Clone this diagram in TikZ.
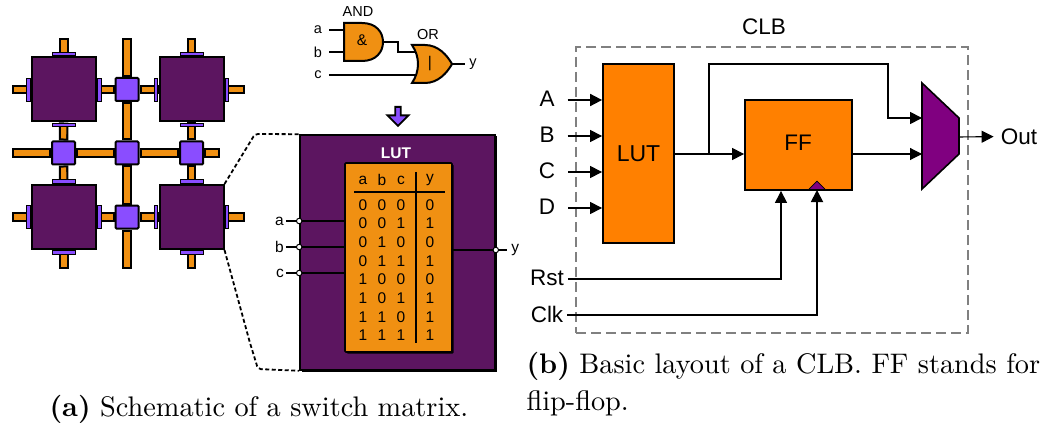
\documentclass[tikz,border=0pt]{standalone}
\usepackage{fontspec}
\setsansfont{Liberation Sans}
\usetikzlibrary{shapes.geometric,shapes.arrows,arrows.meta,positioning,calc,backgrounds,shadows}
\definecolor{clbpurple}{HTML}{5C1560}
\definecolor{swviolet}{HTML}{8A4DFF}
\definecolor{wireorange}{HTML}{F09012}
\definecolor{boxorange}{HTML}{FF8000}
\definecolor{muxpurple}{HTML}{800080}
\begin{document}
\begin{tikzpicture}[
  x=1pt, y=-1pt,
  font=\sffamily,
  >={Triangle[length=12pt,width=12pt]},
  clb/.style={rectangle, draw=black, fill=clbpurple, line width=2pt, minimum size=64pt, inner sep=0pt},
  sw/.style={rectangle, rounded corners=1pt, draw=black, fill=swviolet, line width=2pt, minimum size=23pt, inner sep=0pt},
  padh/.style={rectangle, draw=black, fill=swviolet, line width=0.8pt, minimum width=23pt, minimum height=3.5pt, inner sep=0pt},
  padv/.style={rectangle, draw=black, fill=swviolet, line width=0.8pt, minimum width=3.5pt, minimum height=23pt, inner sep=0pt},
  wire/.style={line width=9.5pt, draw=black, postaction={draw=wireorange, line width=5.2pt, shorten >=2pt, shorten <=2pt}},
  zoomline/.style={dash pattern=on 4pt off 2.5pt, line width=1.8pt, rounded corners=3pt},
  gatebox/.style={draw=black, fill=wireorange, line width=2pt},
  gatelbl/.style={font=\sffamily\fontsize{14.5}{15}\selectfont, inner sep=0pt},
  gline/.style={line width=1.3pt},
  cell/.style={font=\sffamily\fontsize{15.5}{16}\selectfont, inner sep=0pt},
  port/.style={circle, draw=black, fill=white, line width=1pt, minimum size=5.5pt, inner sep=0pt},
  raised/.style={general shadow={fill=black, shadow xshift=1.5pt, shadow yshift=-1.5pt}},
  block/.style={rectangle, draw=black, fill=boxorange, line width=1.8pt, inner sep=0pt, font=\sffamily\fontsize{23}{23}\selectfont},
  sig/.style={font=\sffamily\fontsize{22.5}{23}\selectfont, inner sep=0pt},
  link/.style={->, line width=1.1pt},
  boldlink/.style={->, line width=1.8pt},
  caption/.style={font=\rmfamily\fontsize{10}{13}\selectfont, scale=2.83, transform shape, inner sep=0pt, align=left, anchor=base west},
]
\useasboundingbox (0,0) rectangle (1050,425);

\node[clb] (clbA) at (64,89.5) {};
\node[clb] (clbB) at (191.5,89.5) {};
\node[clb] (clbC) at (64,217) {};
\node[clb] (clbD) at (191.5,217) {};
\node[sw] (swT) at (127,89.5) {};
\node[sw] (swL) at (63.5,153) {};
\node[sw] (swM) at (127,153) {};
\node[sw] (swR) at (191.5,153) {};
\node[sw] (swB) at (127,217) {};

\foreach \c in {clbA,clbB,clbC,clbD} {
  \node[padh] (\c pn) at ($(\c.north)+(0,-2.5)$) {};
  \node[padh] (\c ps) at ($(\c.south)+(0,2.5)$) {};
  \node[padv] (\c pw) at ($(\c.west)+(-2.5,0)$) {};
  \node[padv] (\c pe) at ($(\c.east)+(2.5,0)$) {};
}

\coordinate (endAn) at (64,38);
\coordinate (endAw) at (12,89.5);
\coordinate (endBn) at (191.5,38);
\coordinate (endBe) at (245,89.5);
\coordinate (endCw) at (12,217);
\coordinate (endCs) at (64,269);
\coordinate (endDe) at (245,217);
\coordinate (endDs) at (191.5,269);
\coordinate (endT) at (127,38);
\coordinate (endL) at (12,153);
\coordinate (endR) at (220,153);
\coordinate (endB) at (127,269);

\begin{scope}[on background layer]
  \foreach \a/\b in {swT/clbA,swT/clbB,swT/swM,swM/swL,swM/swR,swM/swB,swL/clbA,swL/clbC,swR/clbB,swR/clbD,swB/clbC,swB/clbD,
                     clbA/endAn,clbA/endAw,clbB/endBn,clbB/endBe,clbC/endCw,clbC/endCs,clbD/endDe,clbD/endDs,
                     swT/endT,swL/endL,swR/endR,swB/endB}
    \draw[wire] (\a) -- (\b);
\end{scope}

\coordinate (andIn1) at (346,30);
\coordinate (andIn2) at (346,52);
\coordinate (andOut) at (383,42);
\coordinate (orIn1) at (417,52);
\coordinate (orIn2) at (417,75);
\coordinate (orOut) at (452,64);
\node[gatelbl] (inA) at (318,30) {a};
\node[gatelbl] (inB) at (318,52) {b};
\node[gatelbl] (inC) at (318,75) {c};
\node[gatelbl] (outY) at (473,64) {y};
\draw[gline, shorten <=7pt] (inA) -- (andIn1);
\draw[gline, shorten <=7pt] (inB) -- (andIn2);
\draw[gline, shorten <=7pt] (inC) -- (orIn2);
\draw[gline, shorten >=4pt] (orOut) -- (outY);
\draw[gline] (andOut) -| (398,52) -- (orIn1);
\draw[gatebox] (344,23) -- (362,23) .. controls (376,23) and (383,32) .. (andOut) .. controls (383,52) and (376,61) .. (362,61) -- (344,61) -- cycle;
\draw[gatebox] (412,45) -- (425,45) .. controls (438,45) and (447,55) .. (orOut) .. controls (447,73) and (438,83) .. (425,83) -- (412,83) .. controls (420,71) and (420,57) .. (412,45) -- cycle;
\node[cell] (gateAnd) at (362,40) {\&};
\node[cell] (gateOr) at (430,64) {|};
\node[gatelbl] (lblAnd) at (358,12) {AND};
\node[gatelbl] (lblOr) at (428,35) {OR};

\node[single arrow, draw=black, fill=swviolet, line width=1.8pt, minimum width=21pt, minimum height=19pt, single arrow head extend=4pt, shape border rotate=270, inner sep=0.5pt] (toLut) at (398,115) {};

\node[rectangle, raised, draw=black, fill=clbpurple, line width=1.6pt, minimum width=195pt, minimum height=235pt, inner sep=0pt] (lutBox) at (397.5,252.5) {};
\node[rectangle, raised, rounded corners=1pt, draw=black, fill=wireorange, line width=1.6pt, minimum width=107pt, minimum height=189pt, inner sep=0pt] (lutTable) at (398.5,257.5) {};
\node[font=\sffamily\bfseries\fontsize{15.5}{16}\selectfont, text=white, inner sep=0pt] (lutTitle) at (396,153) {LUT};

\node[cell] (headA) at (363,180) {a};
\node[cell] (headB) at (382,180) {b};
\node[cell] (headC) at (401,180) {c};
\node[cell] (headY) at (430,180) {y};
\foreach \va/\vb/\vc/\vy [count=\r] in {0/0/0/0,0/0/1/1,0/1/0/0,0/1/1/1,1/0/0/0,1/0/1/1,1/1/0/1,1/1/1/1} {
  \node[cell] (a\r) at (363,{186+\r*18.7}) {\va};
  \node[cell] (b\r) at (382,{186+\r*18.7}) {\vb};
  \node[cell] (c\r) at (401,{186+\r*18.7}) {\vc};
  \node[cell] (y\r) at (430,{186+\r*18.7}) {\vy};
}
\coordinate (ruleL) at (354,192);
\coordinate (ruleR) at (445,192);
\coordinate (ruleT) at (416,172);
\coordinate (ruleB) at (416,343);
\draw[gline] (ruleL) -- (ruleR);
\draw[gline] (ruleT) -- (ruleB);

\node[port] (portA) at (lutBox.west |- 0,221) {};
\node[port] (portB) at (lutBox.west |- 0,247) {};
\node[port] (portC) at (lutBox.west |- 0,273) {};
\node[port] (portY) at (lutBox.east |- 0,250) {};
\node[cell, left=12pt of portA] (lutInA) {a};
\node[cell, left=12pt of portB] (lutInB) {b};
\node[cell, left=12pt of portC] (lutInC) {c};
\node[cell, right=12pt of portY] (lutOutY) {y};
\foreach \p in {A,B,C} {
  \draw[gline, shorten <=2pt] (lutIn\p) -- (port\p);
  \draw[gline] (port\p) -- (port\p -| lutTable.west);
}
\draw[gline] (lutTable.east |- portY) -- (portY);
\draw[gline, shorten >=4pt] (portY) -- (lutOutY);

\coordinate (dashT) at (255,134);
\coordinate (dashM) at (250,343);
\coordinate (dashB) at (258,369);
\draw[zoomline] (clbD.north east) -- (dashT) -- (lutBox.north west);
\draw[zoomline] (clbD.south east) -- (dashM) -- (dashB) -- (lutBox.south west);

\node[rectangle, draw=black!50, dash pattern=on 10pt off 5pt, line width=1.8pt, minimum width=392pt, minimum height=286pt, inner sep=0pt] (clbFrame) at (772,190) {};
\node[sig] (clbTitle) at (764,27) {CLB};
\node[block, minimum width=71pt, minimum height=179pt] (lut) at (638.5,153.5) {LUT};
\node[block, minimum width=107pt, minimum height=90pt] (ff) at (798.5,145) {};
\node[sig] (ffText) at (798,143) {FF};
\node[isosceles triangle, isosceles triangle apex angle=90, shape border rotate=90, draw=black, fill=muxpurple, line width=0.8pt, minimum height=8pt, minimum width=17pt, inner sep=0pt, anchor=lower side] (clkMark) at (817,190) {};
\coordinate (muxA) at (922,83);
\coordinate (muxB) at (959,118);
\coordinate (muxC) at (959,154);
\coordinate (muxD) at (922,189);
\coordinate (muxT) at (922,118);
\coordinate (muxL) at (922,154);
\coordinate (muxOut) at (959,137);
\coordinate (tap) at (709,154);
\coordinate (topRight) at (888,64);
\draw[draw=black, fill=muxpurple, line width=1.6pt, line join=miter] (muxA) -- (muxB) -- (muxC) -- (muxD) -- cycle;

\node[sig] (inAA) at (547,99) {A};
\node[sig] (inBB) at (547,135) {B};
\node[sig] (inCC) at (547,171) {C};
\node[sig] (inDD) at (547,207) {D};
\node[sig] (inRst) at (547,278) {Rst};
\node[sig] (inClk) at (547,314) {Clk};
\node[sig] (outO) at (1019,136.5) {Out};

\draw[boldlink, shorten <=13pt] (inAA.east |- 0,100) -- (lut.west |- 0,100);
\foreach \n/\yy in {inBB/136,inCC/172,inDD/208}
  \draw[link, shorten <=13pt] (\n.east |- 0,\yy) -- (lut.west |- 0,\yy);
\draw[link] (lut.east |- tap) -- (ff.west |- tap);
\draw[boldlink] (tap) |- (topRight) |- (muxT);
\draw[link] (ff.east |- muxL) -- (muxL);
\draw[link, shorten <=4pt] (inRst.east |- 0,279) -| (781,0 |- ff.south);
\draw[boldlink, shorten <=4pt] (inClk.east |- 0,315) -| (clkMark.south);
\draw[link, shorten >=7pt] (muxOut) -- (outO.west);

\node[caption] (capA) at (49,416) {\textbf{(a)} Schematic of a switch matrix.};
\node[caption] (capB) at (526,410) {\textbf{(b)} Basic layout of a CLB. FF stands for\\flip-flop.};
\end{tikzpicture}
\end{document}
